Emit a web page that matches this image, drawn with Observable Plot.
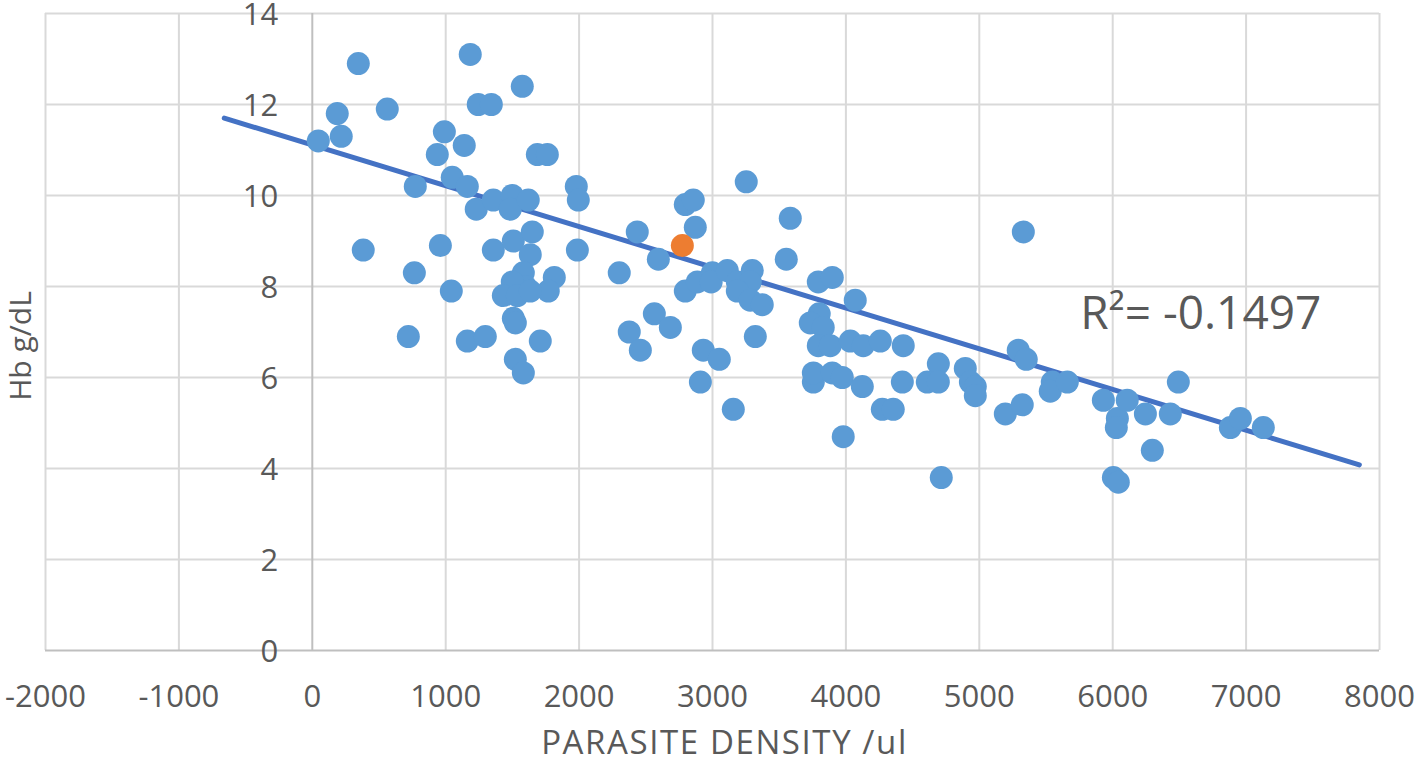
<!DOCTYPE html>
<html>
<head>
<meta charset="utf-8">
<script src="https://cdn.jsdelivr.net/npm/d3@7"></script>
<script src="https://cdn.jsdelivr.net/npm/@observablehq/plot@0.6"></script>
<style>
  html, body { margin: 0; padding: 0; background: #fff; }
  #chart svg { display: block; }
</style>
</head>
<body>
<div id="chart"></div>
<script>
// Parasite density (/ul) and haemoglobin (g/dL) — blue series
const densityBlue = [
  45,187,217,345,382,562,720,772,765,937,960,990,1049,1042,1139,1162,1184,1162,1229,1244,
  1342,1297,1357,1357,1499,1484,1574,1619,1507,1649,1634,1582,1814,1769,1597,1499,1432,1537,1634,1507,
  1522,1522,1582,1709,1687,1762,1979,1994,1987,
  2301,2376,2436,2459,2594,2564,2684,2796,2856,2871,2796,2886,2999,2990,3111,3186,3298,3283,3186,3283,
  3373,3321,2931,3051,2909,3156,3253,3583,3553,
  3793,3898,4070,3800,3733,3830,3793,3883,4033,4130,4258,4430,3756,3756,3898,3973,4123,4423,4273,4355,
  3980,4693,4610,4693,4895,4933,4970,4970,4715,5330,5292,5352,5195,5322,5547,5532,5660,5930,6035,6027,
  6109,6245,6432,6492,6297,6005,6042,6882,6957,7129
];
const hbBlue = [
  11.2,11.8,11.3,12.9,8.8,11.9,6.9,10.2,8.3,10.9,8.9,11.4,10.4,7.9,11.1,10.2,13.1,6.8,9.7,12.0,
  12.0,6.9,9.9,8.8,10.0,9.7,12.4,9.9,9.0,9.2,8.7,8.3,8.2,7.9,8.0,8.1,7.8,7.8,7.9,7.3,
  7.2,6.4,6.1,6.8,10.9,10.9,10.2,9.9,8.8,
  8.3,7.0,9.2,6.6,8.6,7.4,7.1,9.8,9.9,9.3,7.9,8.1,8.3,8.1,8.35,8.1,8.35,8.1,7.9,7.7,
  7.6,6.9,6.6,6.4,5.9,5.3,10.3,9.5,8.6,
  8.1,8.2,7.7,7.4,7.2,7.1,6.7,6.7,6.8,6.7,6.8,6.7,5.9,6.1,6.1,6.0,5.8,5.9,5.3,5.3,
  4.7,6.3,5.9,5.9,6.2,5.9,5.8,5.6,3.8,9.2,6.6,6.4,5.2,5.4,5.9,5.7,5.9,5.5,5.1,4.9,
  5.5,5.2,5.2,5.9,4.4,3.8,3.7,4.9,5.1,4.9
];
// Highlighted (orange) observation
const densityOrange = [2774];
const hbOrange = [8.9];
// Linear trendline (extended forward/backward)
const trendX = [-660, 7849];
const trendY = [11.70, 4.08];
// Axis ticks
const xTicks = [-2000,-1000,0,1000,2000,3000,4000,5000,6000,7000,8000];
const yTicks = [0,2,4,6,8,10,12,14];
const xTitle = "PARASITE DENSITY /ul";
const yTitle = "Hb g/dL";
const r2Label = "R\u00B2= -0.1497";
const r2Pos = [{x: 5757, y: 7.38}];

const blue = densityBlue.map((d, i) => ({x: d, y: hbBlue[i]}));
const orange = densityOrange.map((d, i) => ({x: d, y: hbOrange[i]}));
const trend = trendX.map((d, i) => ({x: d, y: trendY[i]}));

const font = "'Open Sans', 'Liberation Sans', sans-serif";
const textColor = "#595959";

const chart = Plot.plot({
  width: 1418,
  height: 773,
  marginLeft: 45,
  marginRight: 39,
  marginTop: 13,
  marginBottom: 123,
  style: {fontFamily: font, background: "#fff"},
  x: {domain: [-2000, 8000], axis: null},
  y: {domain: [0, 14], axis: null},
  marks: [
    Plot.ruleX(xTicks.filter(d => d !== 0), {stroke: "#d9d9d9", strokeWidth: 2}),
    Plot.ruleY(yTicks.filter(d => d !== 0), {stroke: "#d9d9d9", strokeWidth: 2}),
    Plot.ruleX([0], {stroke: "#bfbfbf", strokeWidth: 2}),
    Plot.ruleY([0], {stroke: "#bfbfbf", strokeWidth: 2}),
    Plot.line(trend, {x: "x", y: "y", stroke: "#4472c4", strokeWidth: 5, strokeLinecap: "round"}),
    Plot.dot(blue, {x: "x", y: "y", r: 11.5, fill: "#5b9bd5"}),
    Plot.dot(orange, {x: "x", y: "y", r: 11.5, fill: "#ed7d31"}),
    Plot.text(yTicks, {x: () => 0, y: d => d, text: d => String(d), textAnchor: "end", dx: -34, dy: 2, fontSize: 31, fill: textColor}),
    Plot.text(xTicks, {x: d => d, y: () => 0, text: d => String(d), dy: 47, fontSize: 31, fill: textColor}),
    Plot.text([xTitle], {frameAnchor: "bottom", text: d => d, textAnchor: "middle", dy: 103, dx: 12, fontSize: 33, fill: textColor}),
    Plot.text([yTitle], {frameAnchor: "left", text: d => d, textAnchor: "middle", rotate: -90, dx: -24, dy: 14, fontSize: 30, fill: textColor}),
    Plot.text(r2Pos, {x: "x", y: "y", text: () => r2Label, textAnchor: "start", fontSize: 46, fill: textColor})
  ]
});
d3.select(chart).selectAll("text")
  .filter(function() { return this.textContent === xTitle; })
  .style("letter-spacing", "1.6px");
document.getElementById("chart").appendChild(chart);
</script>
</body>
</html>
